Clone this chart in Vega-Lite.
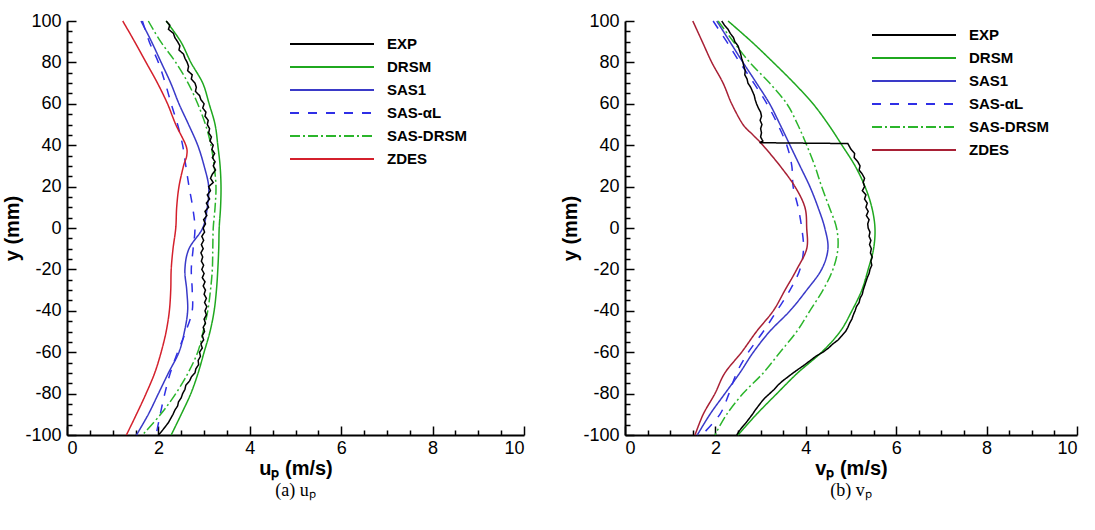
{
  "$schema": "https://vega.github.io/schema/vega-lite/v6.json",
  "padding": {"left": 2, "top": 12, "right": 5, "bottom": 5},
  "config": {
    "font": "Liberation Sans",
    "view": {"stroke": null},
    "axis": {
      "grid": false,
      "domainColor": "#000000",
      "domainWidth": 2,
      "tickColor": "#000000",
      "tickWidth": 1.5,
      "labelColor": "#000000",
      "labelFont": "Liberation Sans",
      "labelFontSize": 18,
      "titleColor": "#000000",
      "titleFont": "Liberation Sans",
      "titleFontSize": 20,
      "titleFontWeight": "bold"
    },
    "legend": {
      "orient": "none",
      "padding": 0,
      "symbolType": "M-3,0H3",
      "symbolSize": 784,
      "symbolStrokeWidth": 2,
      "labelFont": "Liberation Sans",
      "labelFontSize": 15,
      "labelFontWeight": "bold",
      "labelColor": "#000000",
      "labelOffset": 40,
      "rowPadding": -1
    }
  },
  "datasets": {
    "u": [
      {"s":"EXP","x":2.17,"y":100},{"s":"EXP","x":2.25,"y":98},{"s":"EXP","x":2.22,"y":96},{"s":"EXP","x":2.33,"y":94},{"s":"EXP","x":2.36,"y":92},{"s":"EXP","x":2.42,"y":90},{"s":"EXP","x":2.47,"y":88},{"s":"EXP","x":2.45,"y":86},{"s":"EXP","x":2.55,"y":84},{"s":"EXP","x":2.58,"y":82},{"s":"EXP","x":2.63,"y":80},{"s":"EXP","x":2.66,"y":78},{"s":"EXP","x":2.64,"y":76},{"s":"EXP","x":2.74,"y":74},{"s":"EXP","x":2.72,"y":72},{"s":"EXP","x":2.8,"y":70},{"s":"EXP","x":2.83,"y":68},{"s":"EXP","x":2.81,"y":66},{"s":"EXP","x":2.9,"y":64},{"s":"EXP","x":2.93,"y":62},{"s":"EXP","x":3.0,"y":60},{"s":"EXP","x":2.97,"y":58},{"s":"EXP","x":3.04,"y":56},{"s":"EXP","x":3.02,"y":54},{"s":"EXP","x":3.09,"y":52},{"s":"EXP","x":3.07,"y":50},{"s":"EXP","x":3.12,"y":48},{"s":"EXP","x":3.1,"y":46},{"s":"EXP","x":3.16,"y":44},{"s":"EXP","x":3.13,"y":42},{"s":"EXP","x":3.2,"y":40},{"s":"EXP","x":3.17,"y":38},{"s":"EXP","x":3.23,"y":36},{"s":"EXP","x":3.18,"y":34},{"s":"EXP","x":3.24,"y":32},{"s":"EXP","x":3.2,"y":30},{"s":"EXP","x":3.25,"y":28},{"s":"EXP","x":3.18,"y":26},{"s":"EXP","x":3.14,"y":24},{"s":"EXP","x":3.2,"y":22},{"s":"EXP","x":3.1,"y":20},{"s":"EXP","x":3.14,"y":18},{"s":"EXP","x":3.07,"y":16},{"s":"EXP","x":3.12,"y":14},{"s":"EXP","x":3.05,"y":12},{"s":"EXP","x":3.1,"y":10},{"s":"EXP","x":3.02,"y":8},{"s":"EXP","x":3.06,"y":6},{"s":"EXP","x":2.99,"y":4},{"s":"EXP","x":3.03,"y":2},{"s":"EXP","x":2.98,"y":0},{"s":"EXP","x":3.01,"y":-2},{"s":"EXP","x":2.95,"y":-4},{"s":"EXP","x":2.99,"y":-6},{"s":"EXP","x":2.94,"y":-8},{"s":"EXP","x":2.98,"y":-10},{"s":"EXP","x":2.93,"y":-12},{"s":"EXP","x":2.97,"y":-14},{"s":"EXP","x":2.94,"y":-16},{"s":"EXP","x":2.99,"y":-18},{"s":"EXP","x":2.95,"y":-20},{"s":"EXP","x":3.0,"y":-22},{"s":"EXP","x":2.96,"y":-24},{"s":"EXP","x":3.02,"y":-26},{"s":"EXP","x":2.98,"y":-28},{"s":"EXP","x":3.03,"y":-30},{"s":"EXP","x":3.0,"y":-32},{"s":"EXP","x":3.05,"y":-34},{"s":"EXP","x":3.01,"y":-36},{"s":"EXP","x":3.06,"y":-38},{"s":"EXP","x":3.02,"y":-40},{"s":"EXP","x":3.05,"y":-42},{"s":"EXP","x":3.0,"y":-44},{"s":"EXP","x":3.03,"y":-46},{"s":"EXP","x":2.98,"y":-48},{"s":"EXP","x":3.01,"y":-50},{"s":"EXP","x":2.96,"y":-52},{"s":"EXP","x":2.99,"y":-54},{"s":"EXP","x":2.93,"y":-56},{"s":"EXP","x":2.96,"y":-58},{"s":"EXP","x":2.9,"y":-60},{"s":"EXP","x":2.92,"y":-62},{"s":"EXP","x":2.87,"y":-64},{"s":"EXP","x":2.88,"y":-66},{"s":"EXP","x":2.82,"y":-68},{"s":"EXP","x":2.8,"y":-70},{"s":"EXP","x":2.72,"y":-72},{"s":"EXP","x":2.68,"y":-74},{"s":"EXP","x":2.6,"y":-76},{"s":"EXP","x":2.58,"y":-78},{"s":"EXP","x":2.53,"y":-80},{"s":"EXP","x":2.5,"y":-82},{"s":"EXP","x":2.44,"y":-84},{"s":"EXP","x":2.42,"y":-86},{"s":"EXP","x":2.36,"y":-88},{"s":"EXP","x":2.32,"y":-90},{"s":"EXP","x":2.27,"y":-92},{"s":"EXP","x":2.22,"y":-94},{"s":"EXP","x":2.15,"y":-96},{"s":"EXP","x":2.08,"y":-98},{"s":"EXP","x":2.0,"y":-100},
      {"s":"DRSM","x":2.17,"y":100},{"s":"DRSM","x":2.49,"y":90},{"s":"DRSM","x":2.71,"y":80},{"s":"DRSM","x":2.97,"y":70},{"s":"DRSM","x":3.11,"y":60},{"s":"DRSM","x":3.24,"y":50},{"s":"DRSM","x":3.3,"y":40},{"s":"DRSM","x":3.35,"y":30},{"s":"DRSM","x":3.37,"y":20},{"s":"DRSM","x":3.36,"y":10},{"s":"DRSM","x":3.33,"y":0},{"s":"DRSM","x":3.32,"y":-10},{"s":"DRSM","x":3.3,"y":-20},{"s":"DRSM","x":3.27,"y":-30},{"s":"DRSM","x":3.22,"y":-40},{"s":"DRSM","x":3.13,"y":-50},{"s":"DRSM","x":3.0,"y":-60},{"s":"DRSM","x":2.87,"y":-70},{"s":"DRSM","x":2.71,"y":-80},{"s":"DRSM","x":2.5,"y":-90},{"s":"DRSM","x":2.28,"y":-100},
      {"s":"SAS1","x":1.62,"y":100},{"s":"SAS1","x":1.85,"y":90},{"s":"SAS1","x":2.06,"y":80},{"s":"SAS1","x":2.27,"y":70},{"s":"SAS1","x":2.45,"y":60},{"s":"SAS1","x":2.66,"y":50},{"s":"SAS1","x":2.86,"y":40},{"s":"SAS1","x":3.0,"y":30},{"s":"SAS1","x":3.1,"y":20},{"s":"SAS1","x":3.07,"y":10},{"s":"SAS1","x":2.97,"y":0},{"s":"SAS1","x":2.67,"y":-10},{"s":"SAS1","x":2.58,"y":-20},{"s":"SAS1","x":2.62,"y":-30},{"s":"SAS1","x":2.64,"y":-40},{"s":"SAS1","x":2.57,"y":-50},{"s":"SAS1","x":2.45,"y":-60},{"s":"SAS1","x":2.22,"y":-70},{"s":"SAS1","x":2.0,"y":-80},{"s":"SAS1","x":1.78,"y":-90},{"s":"SAS1","x":1.52,"y":-100},
      {"s":"SAS-αL","x":1.65,"y":100},{"s":"SAS-αL","x":1.8,"y":90},{"s":"SAS-αL","x":2.0,"y":80},{"s":"SAS-αL","x":2.15,"y":70},{"s":"SAS-αL","x":2.28,"y":60},{"s":"SAS-αL","x":2.42,"y":50},{"s":"SAS-αL","x":2.53,"y":40},{"s":"SAS-αL","x":2.6,"y":30},{"s":"SAS-αL","x":2.67,"y":20},{"s":"SAS-αL","x":2.75,"y":10},{"s":"SAS-αL","x":2.8,"y":0},{"s":"SAS-αL","x":2.76,"y":-10},{"s":"SAS-αL","x":2.72,"y":-20},{"s":"SAS-αL","x":2.74,"y":-30},{"s":"SAS-αL","x":2.74,"y":-40},{"s":"SAS-αL","x":2.6,"y":-50},{"s":"SAS-αL","x":2.42,"y":-60},{"s":"SAS-αL","x":2.26,"y":-70},{"s":"SAS-αL","x":2.14,"y":-80},{"s":"SAS-αL","x":2.04,"y":-90},{"s":"SAS-αL","x":1.95,"y":-100},
      {"s":"SAS-DRSM","x":1.78,"y":100},{"s":"SAS-DRSM","x":2.05,"y":90},{"s":"SAS-DRSM","x":2.38,"y":80},{"s":"SAS-DRSM","x":2.65,"y":70},{"s":"SAS-DRSM","x":2.86,"y":60},{"s":"SAS-DRSM","x":3.03,"y":50},{"s":"SAS-DRSM","x":3.15,"y":40},{"s":"SAS-DRSM","x":3.22,"y":30},{"s":"SAS-DRSM","x":3.26,"y":20},{"s":"SAS-DRSM","x":3.24,"y":10},{"s":"SAS-DRSM","x":3.2,"y":0},{"s":"SAS-DRSM","x":3.19,"y":-10},{"s":"SAS-DRSM","x":3.18,"y":-20},{"s":"SAS-DRSM","x":3.14,"y":-30},{"s":"SAS-DRSM","x":3.08,"y":-40},{"s":"SAS-DRSM","x":2.98,"y":-50},{"s":"SAS-DRSM","x":2.86,"y":-60},{"s":"SAS-DRSM","x":2.65,"y":-70},{"s":"SAS-DRSM","x":2.38,"y":-80},{"s":"SAS-DRSM","x":2.05,"y":-90},{"s":"SAS-DRSM","x":1.65,"y":-100},
      {"s":"ZDES","x":1.22,"y":100},{"s":"ZDES","x":1.48,"y":90},{"s":"ZDES","x":1.73,"y":80},{"s":"ZDES","x":1.98,"y":70},{"s":"ZDES","x":2.2,"y":60},{"s":"ZDES","x":2.38,"y":50},{"s":"ZDES","x":2.6,"y":40},{"s":"ZDES","x":2.62,"y":35},{"s":"ZDES","x":2.55,"y":30},{"s":"ZDES","x":2.45,"y":20},{"s":"ZDES","x":2.4,"y":10},{"s":"ZDES","x":2.38,"y":0},{"s":"ZDES","x":2.32,"y":-10},{"s":"ZDES","x":2.28,"y":-20},{"s":"ZDES","x":2.27,"y":-30},{"s":"ZDES","x":2.24,"y":-40},{"s":"ZDES","x":2.17,"y":-50},{"s":"ZDES","x":2.06,"y":-60},{"s":"ZDES","x":1.92,"y":-70},{"s":"ZDES","x":1.73,"y":-80},{"s":"ZDES","x":1.52,"y":-90},{"s":"ZDES","x":1.3,"y":-100}
    ],
    "v": [
      {"s":"EXP","x":2.14,"y":100},{"s":"EXP","x":2.2,"y":98},{"s":"EXP","x":2.28,"y":96},{"s":"EXP","x":2.33,"y":94},{"s":"EXP","x":2.4,"y":92},{"s":"EXP","x":2.43,"y":90},{"s":"EXP","x":2.5,"y":88},{"s":"EXP","x":2.53,"y":86},{"s":"EXP","x":2.56,"y":84},{"s":"EXP","x":2.58,"y":82},{"s":"EXP","x":2.61,"y":80},{"s":"EXP","x":2.63,"y":78},{"s":"EXP","x":2.66,"y":76},{"s":"EXP","x":2.65,"y":74},{"s":"EXP","x":2.7,"y":72},{"s":"EXP","x":2.72,"y":70},{"s":"EXP","x":2.78,"y":68},{"s":"EXP","x":2.82,"y":66},{"s":"EXP","x":2.86,"y":64},{"s":"EXP","x":2.88,"y":62},{"s":"EXP","x":2.91,"y":60},{"s":"EXP","x":2.95,"y":58},{"s":"EXP","x":3.0,"y":56},{"s":"EXP","x":3.02,"y":54},{"s":"EXP","x":2.99,"y":52},{"s":"EXP","x":3.03,"y":50},{"s":"EXP","x":3.0,"y":48},{"s":"EXP","x":3.02,"y":46},{"s":"EXP","x":3.0,"y":44},{"s":"EXP","x":3.05,"y":42},{"s":"EXP","x":2.98,"y":41.2},{"s":"EXP","x":4.93,"y":40.8},{"s":"EXP","x":4.95,"y":40},{"s":"EXP","x":5.0,"y":38},{"s":"EXP","x":5.08,"y":36},{"s":"EXP","x":5.07,"y":34},{"s":"EXP","x":5.15,"y":32},{"s":"EXP","x":5.2,"y":30},{"s":"EXP","x":5.18,"y":28},{"s":"EXP","x":5.25,"y":26},{"s":"EXP","x":5.3,"y":24},{"s":"EXP","x":5.27,"y":22},{"s":"EXP","x":5.3,"y":20},{"s":"EXP","x":5.25,"y":18},{"s":"EXP","x":5.33,"y":16},{"s":"EXP","x":5.3,"y":14},{"s":"EXP","x":5.36,"y":12},{"s":"EXP","x":5.33,"y":10},{"s":"EXP","x":5.38,"y":8},{"s":"EXP","x":5.34,"y":6},{"s":"EXP","x":5.4,"y":4},{"s":"EXP","x":5.37,"y":2},{"s":"EXP","x":5.38,"y":0},{"s":"EXP","x":5.42,"y":-2},{"s":"EXP","x":5.4,"y":-4},{"s":"EXP","x":5.44,"y":-6},{"s":"EXP","x":5.41,"y":-8},{"s":"EXP","x":5.45,"y":-10},{"s":"EXP","x":5.43,"y":-12},{"s":"EXP","x":5.47,"y":-14},{"s":"EXP","x":5.44,"y":-16},{"s":"EXP","x":5.46,"y":-18},{"s":"EXP","x":5.42,"y":-20},{"s":"EXP","x":5.4,"y":-22},{"s":"EXP","x":5.36,"y":-24},{"s":"EXP","x":5.33,"y":-26},{"s":"EXP","x":5.3,"y":-28},{"s":"EXP","x":5.27,"y":-30},{"s":"EXP","x":5.25,"y":-32},{"s":"EXP","x":5.2,"y":-34},{"s":"EXP","x":5.18,"y":-36},{"s":"EXP","x":5.12,"y":-38},{"s":"EXP","x":5.09,"y":-40},{"s":"EXP","x":5.05,"y":-42},{"s":"EXP","x":5.02,"y":-44},{"s":"EXP","x":4.97,"y":-46},{"s":"EXP","x":4.93,"y":-48},{"s":"EXP","x":4.88,"y":-50},{"s":"EXP","x":4.8,"y":-52},{"s":"EXP","x":4.72,"y":-54},{"s":"EXP","x":4.6,"y":-56},{"s":"EXP","x":4.5,"y":-58},{"s":"EXP","x":4.38,"y":-60},{"s":"EXP","x":4.22,"y":-62},{"s":"EXP","x":4.1,"y":-64},{"s":"EXP","x":3.98,"y":-66},{"s":"EXP","x":3.85,"y":-68},{"s":"EXP","x":3.72,"y":-70},{"s":"EXP","x":3.6,"y":-72},{"s":"EXP","x":3.48,"y":-74},{"s":"EXP","x":3.38,"y":-76},{"s":"EXP","x":3.3,"y":-78},{"s":"EXP","x":3.2,"y":-80},{"s":"EXP","x":3.1,"y":-82},{"s":"EXP","x":3.02,"y":-84},{"s":"EXP","x":2.95,"y":-86},{"s":"EXP","x":2.88,"y":-88},{"s":"EXP","x":2.82,"y":-90},{"s":"EXP","x":2.75,"y":-92},{"s":"EXP","x":2.68,"y":-94},{"s":"EXP","x":2.6,"y":-96},{"s":"EXP","x":2.53,"y":-98},{"s":"EXP","x":2.47,"y":-100},
      {"s":"DRSM","x":2.28,"y":100},{"s":"DRSM","x":2.8,"y":90},{"s":"DRSM","x":3.28,"y":80},{"s":"DRSM","x":3.74,"y":70},{"s":"DRSM","x":4.16,"y":60},{"s":"DRSM","x":4.5,"y":50},{"s":"DRSM","x":4.8,"y":40},{"s":"DRSM","x":5.09,"y":30},{"s":"DRSM","x":5.31,"y":20},{"s":"DRSM","x":5.46,"y":10},{"s":"DRSM","x":5.53,"y":0},{"s":"DRSM","x":5.5,"y":-10},{"s":"DRSM","x":5.38,"y":-20},{"s":"DRSM","x":5.24,"y":-30},{"s":"DRSM","x":5.02,"y":-40},{"s":"DRSM","x":4.76,"y":-50},{"s":"DRSM","x":4.35,"y":-60},{"s":"DRSM","x":3.82,"y":-70},{"s":"DRSM","x":3.36,"y":-80},{"s":"DRSM","x":2.91,"y":-90},{"s":"DRSM","x":2.5,"y":-100},
      {"s":"SAS1","x":2.03,"y":100},{"s":"SAS1","x":2.32,"y":90},{"s":"SAS1","x":2.61,"y":80},{"s":"SAS1","x":2.91,"y":70},{"s":"SAS1","x":3.2,"y":60},{"s":"SAS1","x":3.43,"y":50},{"s":"SAS1","x":3.65,"y":40},{"s":"SAS1","x":3.87,"y":30},{"s":"SAS1","x":4.09,"y":20},{"s":"SAS1","x":4.27,"y":10},{"s":"SAS1","x":4.42,"y":0},{"s":"SAS1","x":4.49,"y":-10},{"s":"SAS1","x":4.35,"y":-20},{"s":"SAS1","x":4.02,"y":-30},{"s":"SAS1","x":3.65,"y":-40},{"s":"SAS1","x":3.2,"y":-50},{"s":"SAS1","x":2.84,"y":-60},{"s":"SAS1","x":2.54,"y":-70},{"s":"SAS1","x":2.21,"y":-80},{"s":"SAS1","x":1.88,"y":-90},{"s":"SAS1","x":1.6,"y":-100},
      {"s":"SAS-αL","x":1.95,"y":100},{"s":"SAS-αL","x":2.25,"y":90},{"s":"SAS-αL","x":2.54,"y":80},{"s":"SAS-αL","x":2.85,"y":70},{"s":"SAS-αL","x":3.14,"y":60},{"s":"SAS-αL","x":3.38,"y":50},{"s":"SAS-αL","x":3.58,"y":40},{"s":"SAS-αL","x":3.69,"y":30},{"s":"SAS-αL","x":3.72,"y":20},{"s":"SAS-αL","x":3.83,"y":10},{"s":"SAS-αL","x":3.91,"y":0},{"s":"SAS-αL","x":3.95,"y":-10},{"s":"SAS-αL","x":3.87,"y":-20},{"s":"SAS-αL","x":3.65,"y":-30},{"s":"SAS-αL","x":3.36,"y":-40},{"s":"SAS-αL","x":3.06,"y":-50},{"s":"SAS-αL","x":2.73,"y":-60},{"s":"SAS-αL","x":2.47,"y":-70},{"s":"SAS-αL","x":2.3,"y":-80},{"s":"SAS-αL","x":2.1,"y":-90},{"s":"SAS-αL","x":1.7,"y":-100},
      {"s":"SAS-DRSM","x":2.06,"y":100},{"s":"SAS-DRSM","x":2.4,"y":90},{"s":"SAS-DRSM","x":2.76,"y":80},{"s":"SAS-DRSM","x":3.2,"y":70},{"s":"SAS-DRSM","x":3.58,"y":60},{"s":"SAS-DRSM","x":3.82,"y":50},{"s":"SAS-DRSM","x":4.02,"y":40},{"s":"SAS-DRSM","x":4.2,"y":30},{"s":"SAS-DRSM","x":4.35,"y":20},{"s":"SAS-DRSM","x":4.52,"y":10},{"s":"SAS-DRSM","x":4.68,"y":0},{"s":"SAS-DRSM","x":4.71,"y":-10},{"s":"SAS-DRSM","x":4.6,"y":-20},{"s":"SAS-DRSM","x":4.38,"y":-30},{"s":"SAS-DRSM","x":4.09,"y":-40},{"s":"SAS-DRSM","x":3.8,"y":-50},{"s":"SAS-DRSM","x":3.43,"y":-60},{"s":"SAS-DRSM","x":3.06,"y":-70},{"s":"SAS-DRSM","x":2.61,"y":-80},{"s":"SAS-DRSM","x":2.25,"y":-90},{"s":"SAS-DRSM","x":1.99,"y":-100},
      {"s":"ZDES","x":1.5,"y":100},{"s":"ZDES","x":1.71,"y":90},{"s":"ZDES","x":1.92,"y":80},{"s":"ZDES","x":2.17,"y":70},{"s":"ZDES","x":2.36,"y":60},{"s":"ZDES","x":2.61,"y":50},{"s":"ZDES","x":2.83,"y":45},{"s":"ZDES","x":3.05,"y":40},{"s":"ZDES","x":3.43,"y":30},{"s":"ZDES","x":3.76,"y":20},{"s":"ZDES","x":3.98,"y":10},{"s":"ZDES","x":4.02,"y":0},{"s":"ZDES","x":4.02,"y":-10},{"s":"ZDES","x":3.8,"y":-20},{"s":"ZDES","x":3.54,"y":-30},{"s":"ZDES","x":3.28,"y":-40},{"s":"ZDES","x":2.91,"y":-50},{"s":"ZDES","x":2.58,"y":-60},{"s":"ZDES","x":2.21,"y":-70},{"s":"ZDES","x":1.99,"y":-80},{"s":"ZDES","x":1.73,"y":-90},{"s":"ZDES","x":1.55,"y":-100}
    ]
  },
  "spacing": 35,
  "resolve": {"scale": {"color": "independent", "strokeDash": "independent"}},
  "hconcat": [
    {
      "width": 457,
      "height": 414,
      "data": {"name": "u"},
      "title": {"text": "(a) uₚ", "orient": "bottom", "font": "Liberation Serif", "fontSize": 18, "fontWeight": "normal", "color": "#000000", "offset": 4},
      "encoding": {
        "x": {"field": "x", "type": "quantitative", "scale": {"domain": [0, 10], "nice": false},
          "axis": {"title": "uₚ (m/s)", "values": [0,0.5,1,1.5,2,2.5,3,3.5,4,4.5,5,5.5,6,6.5,7,7.5,8,8.5,9,9.5,10],
            "labelExpr": "datum.value % 2 === 0 ? toString(datum.value) : ''",
            "tickSize": {"condition": {"test": "datum.value % 2 === 0", "value": -9}, "value": -5},
            "labelPadding": 13, "titlePadding": 1}},
        "y": {"field": "y", "type": "quantitative", "scale": {"domain": [-100, 100], "nice": false},
          "axis": {"title": "y (mm)", "values": [-100,-95,-90,-85,-80,-75,-70,-65,-60,-55,-50,-45,-40,-35,-30,-25,-20,-15,-10,-5,0,5,10,15,20,25,30,35,40,45,50,55,60,65,70,75,80,85,90,95,100],
            "labelExpr": "datum.value % 20 === 0 ? toString(datum.value) : ''",
            "tickSize": {"condition": {"test": "datum.value % 20 === 0", "value": -9}, "value": -5},
            "labelPadding": 15, "titlePadding": 2}},
        "color": {"field": "s", "type": "nominal",
          "scale": {"domain": ["EXP","DRSM","SAS1","SAS-αL","SAS-DRSM","ZDES"], "range": ["#000000","#1fa81f","#3a3ac8","#2f2fe6","#2bb52b","#d4202c"]},
          "legend": {"title": null, "legendX": 250, "legendY": 8}},
        "strokeDash": {"field": "s", "type": "nominal",
          "scale": {"domain": ["EXP","DRSM","SAS1","SAS-αL","SAS-DRSM","ZDES"], "range": [[1,0],[1,0],[1,0],[9,9],[10,3,2,3],[1,0]]},
          "legend": {"title": null, "legendX": 250, "legendY": 8}},
        "order": {"field": "y", "type": "quantitative", "sort": "descending"}
      },
      "layer": [
        {"transform": [{"filter": "datum.s !== 'EXP'"}], "mark": {"type": "line", "interpolate": "cardinal", "strokeWidth": 1.5}},
        {"transform": [{"filter": "datum.s === 'EXP'"}], "mark": {"type": "line", "strokeWidth": 1.5}}
      ]
    },
    {
      "width": 452,
      "height": 414,
      "data": {"name": "v"},
      "title": {"text": "(b) vₚ", "orient": "bottom", "font": "Liberation Serif", "fontSize": 18, "fontWeight": "normal", "color": "#000000", "offset": 4},
      "encoding": {
        "x": {"field": "x", "type": "quantitative", "scale": {"domain": [0, 10], "nice": false},
          "axis": {"title": "vₚ (m/s)", "values": [0,0.5,1,1.5,2,2.5,3,3.5,4,4.5,5,5.5,6,6.5,7,7.5,8,8.5,9,9.5,10],
            "labelExpr": "datum.value % 2 === 0 ? toString(datum.value) : ''",
            "tickSize": {"condition": {"test": "datum.value % 2 === 0", "value": -9}, "value": -5},
            "labelPadding": 13, "titlePadding": 1}},
        "y": {"field": "y", "type": "quantitative", "scale": {"domain": [-100, 100], "nice": false},
          "axis": {"title": "y (mm)", "values": [-100,-95,-90,-85,-80,-75,-70,-65,-60,-55,-50,-45,-40,-35,-30,-25,-20,-15,-10,-5,0,5,10,15,20,25,30,35,40,45,50,55,60,65,70,75,80,85,90,95,100],
            "labelExpr": "datum.value % 20 === 0 ? toString(datum.value) : ''",
            "tickSize": {"condition": {"test": "datum.value % 20 === 0", "value": -9}, "value": -5},
            "labelPadding": 15, "titlePadding": 2}},
        "color": {"field": "s", "type": "nominal",
          "scale": {"domain": ["EXP","DRSM","SAS1","SAS-αL","SAS-DRSM","ZDES"], "range": ["#000000","#1fa81f","#3a3ac8","#2f2fe6","#2bb52b","#a82035"]},
          "legend": {"title": null, "legendX": 274, "legendY": -1}},
        "strokeDash": {"field": "s", "type": "nominal",
          "scale": {"domain": ["EXP","DRSM","SAS1","SAS-αL","SAS-DRSM","ZDES"], "range": [[1,0],[1,0],[1,0],[9,9],[10,3,2,3],[1,0]]},
          "legend": {"title": null, "legendX": 274, "legendY": -1}},
        "order": {"field": "y", "type": "quantitative", "sort": "descending"}
      },
      "layer": [
        {"transform": [{"filter": "datum.s !== 'EXP'"}], "mark": {"type": "line", "interpolate": "cardinal", "strokeWidth": 1.5}},
        {"transform": [{"filter": "datum.s === 'EXP'"}], "mark": {"type": "line", "strokeWidth": 1.5}}
      ]
    }
  ]
}
